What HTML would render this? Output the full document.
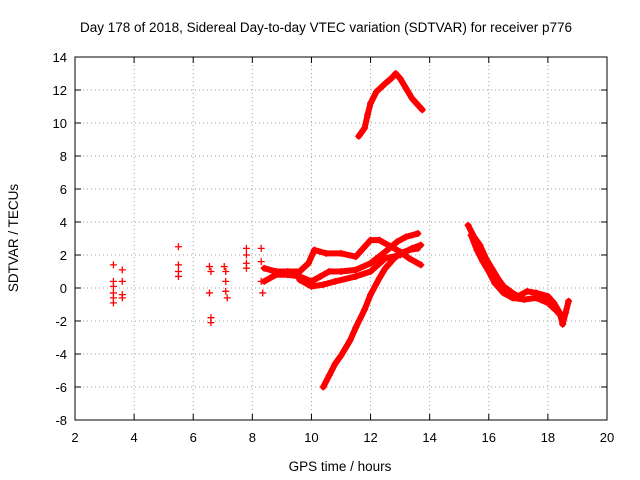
<!DOCTYPE html>
<html><head><meta charset="utf-8"><style>
html,body{margin:0;padding:0;background:#fff;}
svg{display:block;font-family:"Liberation Sans",sans-serif;}
</style></head><body>
<svg id="chart" width="640" height="480">
<rect width="640" height="480" fill="#fff"/>
<g id="grid"></g><g id="axes"></g><g id="marks"></g>
<text x="326" y="32" font-size="13.5" text-anchor="middle">Day 178 of 2018, Sidereal Day-to-day VTEC variation (SDTVAR) for receiver p776</text>
<text x="340" y="471" font-size="13.5" text-anchor="middle">GPS time / hours</text>
<text transform="translate(18,238) rotate(-90)" font-size="13.5" text-anchor="middle">SDTVAR / TECUs</text>
</svg>
<script>
const xTicks=[2,4,6,8,10,12,14,16,18,20];
const yTicks=[-8,-6,-4,-2,0,2,4,6,8,10,12,14];
const trackRising=[[10.4,-6],[10.6,-5.3],[10.8,-4.6],[11,-4.1],[11.3,-3.2],[11.5,-2.4],[11.8,-1.3],[12,-0.4],[12.3,0.6],[12.5,1.2],[12.8,1.8],[13,2.1],[13.3,2.3],[13.6,2.4]];
const trackArc=[[11.6,9.2],[11.8,9.7],[11.9,10.5],[12,11.2],[12.2,11.9],[12.5,12.4],[12.7,12.7],[12.85,13],[13,12.7],[13.2,12.1],[13.4,11.5],[13.6,11.1],[13.75,10.8]];
const trackUpper=[[8.4,1.2],[8.8,1],[9.2,1],[9.6,1],[9.9,1.5],[10.1,2.3],[10.5,2.1],[11,2.1],[11.5,1.9],[11.8,2.5],[12,2.9],[12.3,2.9],[12.7,2.5],[13,2.2],[13.3,1.8],[13.7,1.4]];
const trackMiddle=[[8.4,0.4],[8.8,0.8],[9.2,0.8],[9.6,0.7],[10,0.4],[10.3,0.7],[10.6,1],[11,1],[11.5,1.1],[12,1.5],[12.5,2.2],[12.9,2.8],[13.2,3.1],[13.6,3.3]];
const trackLower=[[9.6,0.5],[10,0.1],[10.4,0.2],[10.8,0.4],[11.5,0.7],[12,1],[12.5,1.8],[13,2],[13.4,2.4],[13.7,2.6]];
const trackEvening=[[15.3,3.8],[15.5,3.1],[15.7,2.6],[15.9,1.8],[16.1,1.2],[16.3,0.6],[16.5,0.1],[16.8,-0.3],[17,-0.5],[17.3,-0.2],[17.6,-0.3],[18,-0.5],[18.2,-0.9],[18.4,-1.5],[18.5,-2.2],[18.6,-1.5],[18.7,-0.8]];
const trackEvening2=[[15.4,3.2],[15.6,2.3],[15.8,1.6],[16,1],[16.2,0.3],[16.5,-0.3],[16.8,-0.6],[17.2,-0.7],[17.6,-0.6],[18,-0.9],[18.3,-1.4],[18.5,-1.8]];
const clusterX=[3.3,3.3,3.3,3.3,3.3,3.3,3.6,3.6,3.6,3.6,5.5,5.5,5.5,5.5,6.55,6.55,6.6,6.6,6.6,7.05,7.1,7.1,7.1,7.15,7.8,7.8,7.8,7.8,8.3,8.3,8.3,8.35];
const clusterY=[1.4,0.4,0.1,-0.3,-0.6,-0.9,1.1,0.4,-0.4,-0.6,2.5,1.4,1.0,0.7,1.3,-0.3,1.0,-1.8,-2.1,1.3,1.0,0.4,-0.2,-0.6,2.4,2.0,1.5,1.2,2.4,1.6,0.4,-0.3];
const tracks=[trackRising,trackArc,trackUpper,trackMiddle,trackLower,trackEvening,trackEvening2];
const L=75,R=607,T=57,B=420;
const sx=v=>L+(v-2)*(R-L)/18, sy=v=>B-(v+8)*(B-T)/22;
const NS="http://www.w3.org/2000/svg";
function mk(t,a,p){const e=document.createElementNS(NS,t);for(const k in a)e.setAttribute(k,a[k]);p.appendChild(e);return e;}
const grid=document.getElementById('grid'),axes=document.getElementById('axes'),marks=document.getElementById('marks');
xTicks.forEach(v=>{const x=sx(v);
 if(v>2&&v<20){const g=mk('line',{x1:x,x2:x,y1:T,y2:B,stroke:'#a0a0a0','stroke-dasharray':'1,3'},grid);}
 mk('line',{x1:x,x2:x,y1:B,y2:B-6,stroke:'#000'},axes);mk('line',{x1:x,x2:x,y1:T,y2:T+6,stroke:'#000'},axes);
 const t=mk('text',{x:x,y:B+22,'font-size':13,'text-anchor':'middle'},axes);t.textContent=v;
 });
yTicks.forEach(v=>{const y=sy(v);
 if(v>-8&&v<14){const g=mk('line',{x1:L,x2:R,y1:y,y2:y,stroke:'#a0a0a0','stroke-dasharray':'1,3'},grid);}
 mk('line',{x1:L,x2:L+6,y1:y,y2:y,stroke:'#000'},axes);mk('line',{x1:R,x2:R-6,y1:y,y2:y,stroke:'#000'},axes);
 const t=mk('text',{x:L-8,y:y+5,'font-size':13,'text-anchor':'end'},axes);t.textContent=v;
 });
const fr=mk('rect',{x:L,y:T,width:R-L,height:B-T,fill:'none',stroke:'#000'},axes);

function plus(x,y){const p=mk('path',{d:`M${x-3.5},${y}h7M${x},${y-3.5}v7`,stroke:'#f00','stroke-width':1.3},marks);
 }
tracks.forEach(tr=>{const pl=mk('polyline',{points:tr.map(p=>sx(p[0])+','+sy(p[1])).join(' '),fill:'none',stroke:'#f00','stroke-width':6,'stroke-linejoin':'round','stroke-linecap':'round'},marks);
 
 tr.forEach(p=>plus(sx(p[0]),sy(p[1])));});
clusterX.forEach((v,i)=>plus(sx(v),sy(clusterY[i])));
</script>
</body></html>
